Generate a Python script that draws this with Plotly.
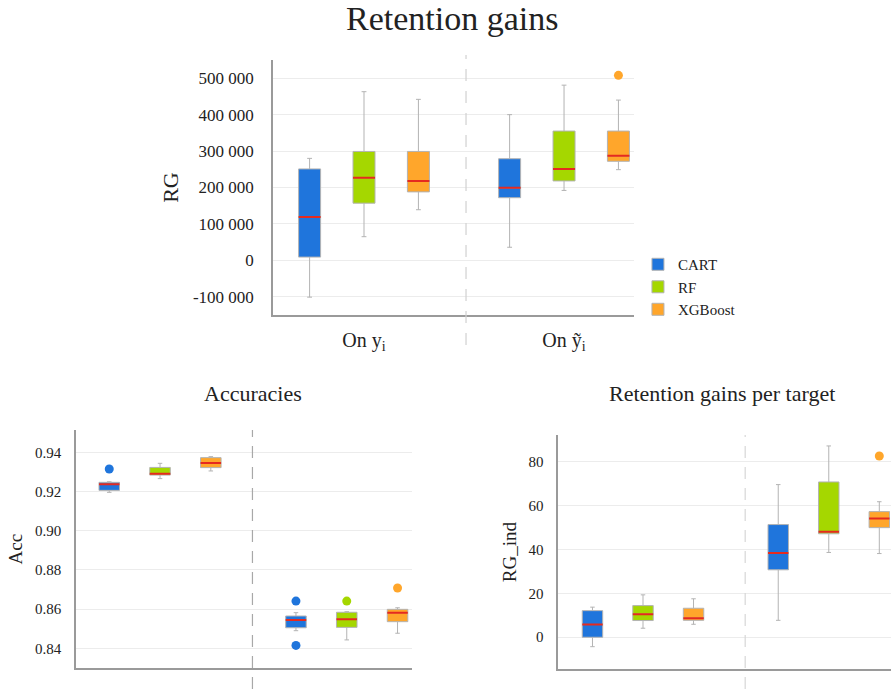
import plotly.graph_objects as go

# ---------------- data ----------------
models = ["CART", "RF", "XGBoost"]
colors = {"CART": "#1f75dc", "RF": "#a5d700", "XGBoost": "#ffa62b"}
median_color = "#e52a1f"
categories = ["On y<sub>i</sub>", "On ỹ<sub>i</sub>"]

# Retention gains (RG): per model, per category [On y_i, On y~_i]
rg_lower = {"CART": [-101000, 36000], "RF": [65000, 192000], "XGBoost": [139000, 249000]}
rg_q1 = {"CART": [9000, 172000], "RF": [157000, 218000], "XGBoost": [188000, 272000]}
rg_med = {"CART": [119000, 199000], "RF": [227000, 251000], "XGBoost": [218000, 287000]}
rg_q3 = {"CART": [251000, 279000], "RF": [299000, 355000], "XGBoost": [299000, 355000]}
rg_upper = {"CART": [280000, 400000], "RF": [463000, 481000], "XGBoost": [442000, 440000]}
rg_outliers = {"CART": [], "RF": [], "XGBoost": [(1, 508000)]}
rg_tickvals = [-100000, 0, 100000, 200000, 300000, 400000, 500000]
rg_ticktext = ["-100 000", "0", "100 000", "200 000", "300 000", "400 000", "500 000"]

# Accuracies (Acc)
acc_lower = {"CART": [0.9196, 0.8490], "RF": [0.9266, 0.8443], "XGBoost": [0.9305, 0.8477]}
acc_q1 = {"CART": [0.9206, 0.8505], "RF": [0.9284, 0.8507], "XGBoost": [0.9322, 0.8536]}
acc_med = {"CART": [0.9237, 0.8545], "RF": [0.9291, 0.8548], "XGBoost": [0.9346, 0.8582]}
acc_q3 = {"CART": [0.9247, 0.8565], "RF": [0.9323, 0.8584], "XGBoost": [0.9373, 0.8599]}
acc_upper = {"CART": [0.9250, 0.8582], "RF": [0.9344, 0.8587], "XGBoost": [0.9378, 0.8607]}
acc_outliers = {"CART": [(0, 0.9315), (1, 0.8641), (1, 0.8415)], "RF": [(1, 0.8641)], "XGBoost": [(1, 0.8708)]}
acc_tickvals = [0.84, 0.86, 0.88, 0.90, 0.92, 0.94]
acc_ticktext = ["0.84", "0.86", "0.88", "0.90", "0.92", "0.94"]

# Retention gains per target (RG_ind)
ind_lower = {"CART": [-4.3, 7.7], "RF": [4.1, 38.6], "XGBoost": [5.9, 38.1]}
ind_q1 = {"CART": [0.0, 30.7], "RF": [7.6, 47.1], "XGBoost": [7.7, 49.9]}
ind_med = {"CART": [5.8, 38.3], "RF": [10.5, 48.0], "XGBoost": [8.7, 54.1]}
ind_q3 = {"CART": [12.1, 51.3], "RF": [14.4, 70.7], "XGBoost": [13.2, 57.2]}
ind_upper = {"CART": [13.7, 69.5], "RF": [19.3, 87.1], "XGBoost": [17.5, 61.7]}
ind_outliers = {"CART": [], "RF": [], "XGBoost": [(1, 82.5)]}
ind_tickvals = [0, 20, 40, 60, 80]
ind_ticktext = ["0", "20", "40", "60", "80"]

# ---------------- style ----------------
FONT = "Liberation Serif"
TXT = "#222222"
GRID = "#ececec"
AXLINE = "#9a9a9a"
WHISK = "#b3b3b3"
group_offset = {"CART": -0.272, "RF": 0.0, "XGBoost": 0.272}
box_width = 0.11

fig = go.Figure()

panels = [
    dict(xa="x", ya="y", lower=rg_lower, q1=rg_q1, med=rg_med, q3=rg_q3, upper=rg_upper,
         outl=rg_outliers, legend=True),
    dict(xa="x2", ya="y2", lower=acc_lower, q1=acc_q1, med=acc_med, q3=acc_q3, upper=acc_upper,
         outl=acc_outliers, legend=False),
    dict(xa="x3", ya="y3", lower=ind_lower, q1=ind_q1, med=ind_med, q3=ind_q3, upper=ind_upper,
         outl=ind_outliers, legend=False),
]

for p in panels:
    for m in models:
        xs = [i + group_offset[m] for i in range(len(categories))]
        fig.add_trace(go.Box(
            x=xs, q1=p["q1"][m], median=p["med"][m], q3=p["q3"][m],
            lowerfence=p["lower"][m], upperfence=p["upper"][m],
            width=box_width, whiskerwidth=0.22,
            fillcolor=colors[m], line=dict(color=WHISK, width=1),
            name=m, legendgroup=m, showlegend=p["legend"],
            xaxis=p["xa"], yaxis=p["ya"], hoverinfo="skip",
        ))
        # red median line drawn as a degenerate box at the median
        fig.add_trace(go.Box(
            x=xs, q1=p["med"][m], median=p["med"][m], q3=p["med"][m],
            lowerfence=p["med"][m], upperfence=p["med"][m],
            width=box_width, whiskerwidth=0,
            fillcolor="rgba(0,0,0,0)", line=dict(color=median_color, width=2),
            name=m, legendgroup=m, showlegend=False,
            xaxis=p["xa"], yaxis=p["ya"], hoverinfo="skip",
        ))
        if p["outl"][m]:
            fig.add_trace(go.Scatter(
                x=[c + group_offset[m] for c, _ in p["outl"][m]],
                y=[v for _, v in p["outl"][m]],
                mode="markers", marker=dict(color=colors[m], size=9),
                showlegend=False, legendgroup=m, xaxis=p["xa"], yaxis=p["ya"], hoverinfo="skip",
            ))

common_x = dict(tickmode="array", tickvals=[0, 1], showgrid=False, zeroline=False, automargin=False,
                showline=True, linecolor=AXLINE, linewidth=1.5, ticks="")
common_y = dict(tickmode="array", showgrid=True, gridcolor=GRID, gridwidth=1, zeroline=False,
                automargin=False,
                showline=True, linecolor=AXLINE, linewidth=1.5, ticks="")

fig.update_layout(
    width=891, height=689,
    margin=dict(l=0, r=0, t=0, b=0, autoexpand=False),
    paper_bgcolor="white", plot_bgcolor="white",
    font=dict(family=FONT, color=TXT),
    boxmode="overlay",
    xaxis=dict(common_x, domain=[0.3064, 0.7116], range=[-0.455, 1.35], anchor="y",
               ticktext=categories, tickfont=dict(size=20, family=FONT), ticklabelstandoff=6),
    yaxis=dict(common_y, domain=[0.5428, 0.9129], range=[-150000, 550000], anchor="x",
               tickvals=rg_tickvals, ticktext=rg_ticktext, tickfont=dict(size=17, family=FONT),
               ticklabelstandoff=14,
               title=dict(text="RG", font=dict(size=22, family=FONT), standoff=8)),
    xaxis2=dict(common_x, domain=[0.0853, 0.4621], range=[-0.45, 1.348], anchor="y2",
                showticklabels=False),
    yaxis2=dict(common_y, domain=[0.0300, 0.3759], range=[0.8298, 0.9514], anchor="x2",
                tickvals=acc_tickvals, ticktext=acc_ticktext, tickfont=dict(size=15, family=FONT),
                ticklabelstandoff=10,
                title=dict(text="Acc", font=dict(size=19, family=FONT), standoff=7)),
    xaxis3=dict(common_x, domain=[0.6266, 1.0], range=[-0.456, 1.335], anchor="y3",
                showticklabels=False),
    yaxis3=dict(common_y, domain=[0.0286, 0.3687], range=[-14.6, 92.1], anchor="x3",
                tickvals=ind_tickvals, ticktext=ind_ticktext, tickfont=dict(size=15, family=FONT),
                ticklabelstandoff=10,
                title=dict(text="RG_ind", font=dict(size=19, family=FONT), standoff=7)),
    legend=dict(x=0.716, y=0.64, xanchor="left", yanchor="top",
                font=dict(size=15, family=FONT), tracegroupgap=0, itemwidth=30,
                bgcolor="rgba(0,0,0,0)"),
    showlegend=True,
)

# titles
fig.add_annotation(text="Retention gains", x=0.5077, y=1 - 18 / 689, xref="paper", yref="paper",
                   showarrow=False, font=dict(size=34, family=FONT, color=TXT),
                   xanchor="center", yanchor="middle")
fig.add_annotation(text="Accuracies", x=253 / 891, y=1 - 393 / 689, xref="paper", yref="paper",
                   showarrow=False, font=dict(size=22, family=FONT, color=TXT),
                   xanchor="center", yanchor="middle")
fig.add_annotation(text="Retention gains per target", x=722 / 891, y=1 - 393 / 689, xref="paper",
                   yref="paper", showarrow=False, font=dict(size=22, family=FONT, color=TXT),
                   xanchor="center", yanchor="middle")

# dashed separators between the two categories
fig.add_shape(type="line", xref="x", yref="paper", x0=0.51, x1=0.51, y0=1 - 345 / 689, y1=1 - 55 / 689,
              line=dict(color="#d0d0d0", width=1.2, dash="12px,10px"))
fig.add_shape(type="line", xref="x2", yref="paper", x0=0.495, x1=0.495, y0=0, y1=1 - 430 / 689,
              line=dict(color="#a8a8a8", width=1.2, dash="12px,9px"))
fig.add_shape(type="line", xref="x3", yref="paper", x0=0.55, x1=0.55, y0=0, y1=1 - 435 / 689,
              line=dict(color="#d6d6d6", width=1.2, dash="12px,9px"))

fig.write_html("out.html", config={"displayModeBar": False},
               post_script="document.body.style.margin='0';document.body.style.overflow='hidden';")
